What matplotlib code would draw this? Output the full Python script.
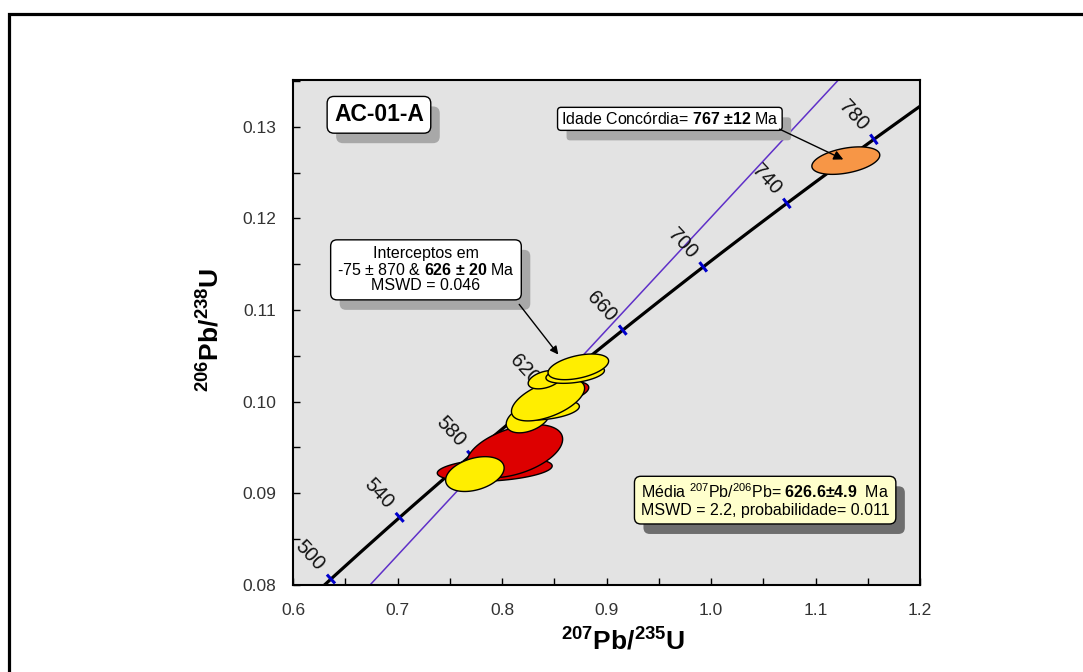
import numpy as np
import matplotlib.pyplot as plt
from matplotlib.patches import Polygon, Rectangle, PathPatch
from matplotlib.ticker import MultipleLocator
from matplotlib.transforms import Affine2D

plt.rcParams['font.family'] = 'Liberation Sans'
plt.rcParams['mathtext.fontset'] = 'custom'
plt.rcParams['mathtext.rm'] = 'Liberation Sans'
plt.rcParams['mathtext.it'] = 'Liberation Sans:italic'
plt.rcParams['mathtext.bf'] = 'Liberation Sans:bold'

# decay constants (1/yr)
lambda_238 = 1.55125e-10
lambda_235 = 9.8485e-10

# ages marked on the concordia (Ma)
age_marks = [500, 540, 580, 620, 660, 700, 740, 780]

# discordia intercepts (Ma)
lower_intercept = -75
upper_intercept = 626

# spot analyses: 207Pb/235U, 206Pb/238U, 2s errors, error correlation
red_x = [0.793, 0.812, 0.857]
red_y = [0.0926, 0.0946, 0.1010]
red_sx = [0.055, 0.046, 0.026]
red_sy = [0.0013, 0.0029, 0.0012]
red_rho = [0.3, 0.45, 0.45]

yellow_x = [0.825, 0.842, 0.844, 0.841, 0.870, 0.873, 0.774]
yellow_y = [0.0982, 0.0991, 0.1002, 0.1024, 0.1030, 0.1038, 0.0921]
yellow_sx = [0.021, 0.032, 0.035, 0.016, 0.028, 0.029, 0.028]
yellow_sy = [0.0016, 0.0011, 0.0023, 0.0010, 0.0010, 0.0014, 0.0019]
yellow_rho = [0.4, 0.35, 0.55, 0.4, 0.4, 0.45, 0.35]

orange_x = [1.129]
orange_y = [0.1263]
orange_sx = [0.0325]
orange_sy = [0.0015]
orange_rho = [0.4]


def ratios(t_ma):
    t = np.asarray(t_ma, dtype=float) * 1e6
    return np.exp(lambda_235 * t) - 1, np.exp(lambda_238 * t) - 1


def error_ellipse(cx, cy, sx, sy, rho, n=100):
    t = np.linspace(0, 2 * np.pi, n)
    x = cx + sx * np.cos(t)
    y = cy + sy * (rho * np.cos(t) + np.sqrt(1 - rho ** 2) * np.sin(t))
    return np.column_stack([x, y])


fig = plt.figure(figsize=(10.83, 6.72), dpi=100)
ax = fig.add_axes([0.2706, 0.1295, 0.5789, 0.7515])
ax.set_facecolor('#e3e3e3')
ax.set_xlim(0.6, 1.2)
ax.set_ylim(0.08, 0.1351)

# concordia curve
ages = np.linspace(400, 850, 400)
cx, cy = ratios(ages)
ax.plot(cx, cy, color='black', lw=2.3, zorder=2)

# discordia line
dx, dy = ratios([lower_intercept, upper_intercept])
slope = (dy[1] - dy[0]) / (dx[1] - dx[0])
xs = np.array([0.5, 1.3])
ax.plot(xs, dy[1] + slope * (xs - dx[1]), color='#5f30c8', lw=1.1, zorder=2)

# age ticks on concordia
mx, my = ratios(age_marks)
mx2, my2 = ratios(np.array(age_marks) + 1)
for age, x0, y0, x1, y1 in zip(age_marks, mx, my, mx2, my2):
    p0 = ax.transData.transform((x0, y0))
    p1 = ax.transData.transform((x1, y1))
    d = (p1 - p0) / np.hypot(*(p1 - p0))
    nrm = np.array([-d[1], d[0]])
    seg = ax.transData.inverted().transform([p0 - 6 * nrm, p0 + 6 * nrm])
    ax.plot(seg[:, 0], seg[:, 1], color='#0000cc', lw=2.2, zorder=3,
            solid_capstyle='butt')
    ax.annotate(str(age), (x0, y0), xytext=(-15, 17), textcoords='offset points',
                ha='center', va='center', rotation=-47, fontsize=14.5,
                color='#111111', zorder=2.5)

# error ellipses
for xs_, ys_, sxs, sys_, rhos, col in [
        (red_x, red_y, red_sx, red_sy, red_rho, '#dd0000'),
        (yellow_x, yellow_y, yellow_sx, yellow_sy, yellow_rho, '#ffee00'),
        (orange_x, orange_y, orange_sx, orange_sy, orange_rho, '#f79646')]:
    for x, y, sx, sy, r in zip(xs_, ys_, sxs, sys_, rhos):
        ax.add_patch(Polygon(error_ellipse(x, y, sx, sy, r), closed=True,
                             fc=col, ec='black', lw=1, zorder=4))

# axes styling
ax.xaxis.set_major_locator(MultipleLocator(0.1))
ax.xaxis.set_minor_locator(MultipleLocator(0.05))
ax.yaxis.set_major_locator(MultipleLocator(0.01))
ax.yaxis.set_minor_locator(MultipleLocator(0.005))
ax.xaxis.set_major_formatter(lambda v, p: f'{v:.1f}')
ax.yaxis.set_major_formatter(lambda v, p: f'{v:.2f}')
ax.tick_params(which='both', direction='in', length=5, width=1,
               labelsize=12.5, labelcolor='#333333')
ax.tick_params(axis='x', pad=13)
ax.tick_params(axis='y', pad=12)
for s in ax.spines.values():
    s.set_linewidth(1.5)

ax.set_xlabel(r'$\mathbf{^{207}Pb/^{235}U}$', fontsize=19)
ax.set_ylabel(r'$\mathbf{^{206}Pb/^{238}U}$', fontsize=19)
ax.xaxis.set_label_coords(0.526, -0.085)
ax.yaxis.set_label_coords(-0.11, 0.505)

boxes = []


def boxed(text, pos, shade, fc='white', box='round,pad=0.35', **kw):
    t = ax.text(*pos, text, transform=ax.transAxes, zorder=6,
                bbox=dict(boxstyle=box, fc=fc, ec='black', lw=1), **kw)
    boxes.append((t, shade))
    return t


boxed('AC-01-A', (0.137, 0.931), '#a8a8a8', ha='center', va='center',
      fontsize=16.5, fontweight='bold', box='round,pad=0.3')

boxed(r'Idade Concórdia= $\mathbf{767\ ±12}$ Ma', (0.601, 0.923), '#a8a8a8',
      ha='center', va='center', fontsize=11.5, box='round,pad=0.22')
ax.annotate('', xy=(orange_x[0], orange_y[0]), xytext=(0.772, 0.905),
            textcoords='axes fraction', zorder=7,
            arrowprops=dict(arrowstyle='-|>', color='black', lw=1,
                            mutation_scale=14))

boxed('Interceptos em\n' + r'-75 ± 870 & $\mathbf{626\ ±\ 20}$ Ma'
      + '\nMSWD = 0.046', (0.212, 0.624), '#a8a8a8', ha='center',
      va='center', fontsize=11.5, linespacing=1.05, box='round,pad=0.4')
ax.annotate('', xy=(0.8555, 0.1049), xytext=(0.358, 0.56),
            textcoords='axes fraction', zorder=7,
            arrowprops=dict(arrowstyle='-|>', color='black', lw=1,
                            mutation_scale=12))

boxed(r'Média $^{207}$Pb/$^{206}$Pb= $\mathbf{626.6±4.9}$  Ma'
      + '\nMSWD = 2.2, probabilidade= 0.011', (0.753, 0.168), '#6e6e6e',
      fc='#ffffcc', ha='center', va='center', fontsize=11.5,
      linespacing=1.1, box='round,pad=0.4')

# drop shadows behind the text boxes
fig.canvas.draw()
for t, shade in boxes:
    bp = t.get_bbox_patch()
    tr = bp.get_transform() + Affine2D().translate(9, -10)
    sh = PathPatch(bp.get_path(), transform=tr, fc=shade, ec='none', zorder=5)
    ax.add_artist(sh)
    sh.set_clip_on(False)

# outer frame
fig.patches.append(Rectangle((9 / 1083, -0.1), 1.2, (672 - 13.5) / 672 + 0.1,
                             transform=fig.transFigure, fill=False,
                             ec='black', lw=2.3))

fig.savefig('out.png', dpi=100)
